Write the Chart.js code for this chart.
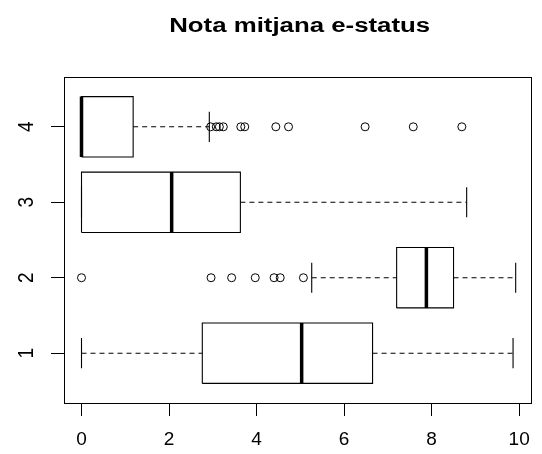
<!DOCTYPE html>
<html>
<head>
<meta charset="utf-8">
<script src="https://cdn.jsdelivr.net/npm/chart.js@4.4.1/dist/chart.umd.min.js"></script>
<style>
  html, body { margin: 0; padding: 0; background: #fff; }
  canvas { display: block; }
</style>
</head>
<body>
<canvas id="c" width="542" height="454"></canvas>
<script>
// Five-number summaries of the average mark, one row per group (1..4)
const groups = [1, 2, 3, 4];
const lowerWhisker = [0.00, 5.26, 0.00, 0.00];
const lowerQuartile = [2.76, 7.20, 0.00, 0.00];
const medians = [5.03, 7.88, 2.06, 0.00];
const upperQuartile = [6.65, 8.50, 3.63, 1.18];
const upperWhisker = [9.86, 9.92, 8.80, 2.92];

// Values beyond the whiskers
const outliersGroup2 = [0.00, 2.96, 3.43, 3.97, 4.40, 4.54, 5.07];
const outliersGroup4 = [2.95, 3.08, 3.15, 3.24, 3.64, 3.73, 4.44, 4.73, 6.48, 7.58, 8.69];

const xTicks = [0, 2, 4, 6, 8, 10];
const yTicks = [1, 2, 3, 4];
const titleText = 'Nota mitjana e-status';

const BOX_HALF = 0.4;   // half of the box thickness, in group units
const CAP_HALF = 0.2;   // half of the whisker staple
const FONT = '"Liberation Sans", Arial, sans-serif';

const lineStyle = {
  type: 'scatter', showLine: true, pointRadius: 0, pointHoverRadius: 0,
  borderColor: '#000', backgroundColor: '#000', borderWidth: 1.1, fill: false,
  tension: 0, borderJoinStyle: 'miter', borderCapStyle: 'butt'
};

const datasets = [];
groups.forEach((g, i) => {
  const lo = g - BOX_HALF, hi = g + BOX_HALF;
  // lower whisker + staple
  datasets.push({ ...lineStyle, borderDash: [5, 4],
    data: [{ x: lowerWhisker[i], y: g }, { x: lowerQuartile[i], y: g }] });
  datasets.push({ ...lineStyle,
    data: [{ x: lowerWhisker[i], y: g - CAP_HALF }, { x: lowerWhisker[i], y: g + CAP_HALF }] });
  // upper whisker + staple
  datasets.push({ ...lineStyle, borderDash: [5, 4],
    data: [{ x: upperQuartile[i], y: g }, { x: upperWhisker[i], y: g }] });
  datasets.push({ ...lineStyle,
    data: [{ x: upperWhisker[i], y: g - CAP_HALF }, { x: upperWhisker[i], y: g + CAP_HALF }] });
  // box
  datasets.push({ ...lineStyle,
    data: [
      { x: lowerQuartile[i], y: lo }, { x: upperQuartile[i], y: lo },
      { x: upperQuartile[i], y: hi }, { x: lowerQuartile[i], y: hi },
      { x: lowerQuartile[i], y: lo }
    ] });
  // median
  datasets.push({ ...lineStyle, borderWidth: 3.5,
    data: [{ x: medians[i], y: lo }, { x: medians[i], y: hi }] });
});

const outlierStyle = {
  type: 'scatter', showLine: false, pointStyle: 'circle', pointRadius: 4,
  pointHoverRadius: 4, borderWidth: 1, borderColor: '#000',
  backgroundColor: 'rgba(0,0,0,0)'
};
datasets.push({ ...outlierStyle, data: outliersGroup2.map(v => ({ x: v, y: 2 })) });
datasets.push({ ...outlierStyle, data: outliersGroup4.map(v => ({ x: v, y: 4 })) });

// Frame, title and rotated y labels
const decorations = {
  id: 'decorations',
  beforeDraw(chart) {
    const ctx = chart.ctx;
    ctx.save();
    ctx.fillStyle = '#fff';
    ctx.fillRect(0, 0, chart.width, chart.height);
    ctx.restore();
  },
  afterDraw(chart) {
    const ctx = chart.ctx;
    const a = chart.chartArea;
    ctx.save();
    ctx.strokeStyle = '#000';
    ctx.lineWidth = 1;
    ctx.strokeRect(Math.round(a.left) + 0.5, Math.round(a.top) + 0.5,
      Math.round(a.right - a.left) - 1, Math.round(a.bottom - a.top));

    // title
    ctx.fillStyle = '#000';
    ctx.font = 'bold 20px ' + FONT;
    ctx.textAlign = 'center';
    ctx.textBaseline = 'alphabetic';
    ctx.translate((a.left + a.right) / 2 + 1.5, 32);
    ctx.scale(1.29, 1);
    ctx.fillText(titleText, 0, 0);
    ctx.restore();

    // y labels, parallel to the axis
    const ys = chart.scales.y;
    ctx.save();
    ctx.fillStyle = '#000';
    ctx.font = '19px ' + FONT;
    ctx.textAlign = 'center';
    ctx.textBaseline = 'alphabetic';
    yTicks.forEach(v => {
      const py = ys.getPixelForValue(v);
      ctx.save();
      ctx.translate(33, py);
      ctx.rotate(-Math.PI / 2);
      ctx.scale(1, 1.15);
      ctx.fillText(String(v), 0, 0);
      ctx.restore();
    });
    ctx.restore();
  }
};

new Chart(document.getElementById('c'), {
  type: 'scatter',
  data: { datasets },
  options: {
    responsive: false,
    animation: false,
    events: [],
    layout: { padding: { top: 77, right: 9, left: 0, bottom: 0 } },
    plugins: { legend: { display: false }, tooltip: { enabled: false }, title: { display: false } },
    scales: {
      x: {
        type: 'linear', min: -0.4, max: 10.3,
        afterBuildTicks: s => { s.ticks = xTicks.map(v => ({ value: v })); },
        afterFit: s => { s.height = 51; },
        border: { display: false },
        grid: { drawOnChartArea: false, drawTicks: true, tickLength: 13, tickColor: '#000', tickWidth: 1 },
        ticks: { color: '#000', padding: 12, maxRotation: 0, font: { family: FONT, size: 19 } }
      },
      y: {
        type: 'linear', min: 0.34, max: 4.66,
        afterBuildTicks: s => { s.ticks = yTicks.map(v => ({ value: v })); },
        afterFit: s => { s.width = 64; },
        border: { display: false },
        grid: { drawOnChartArea: false, drawTicks: true, tickLength: 13, tickColor: '#000', tickWidth: 1 },
        ticks: { display: false }
      }
    }
  },
  plugins: [decorations]
});
</script>
</body>
</html>
